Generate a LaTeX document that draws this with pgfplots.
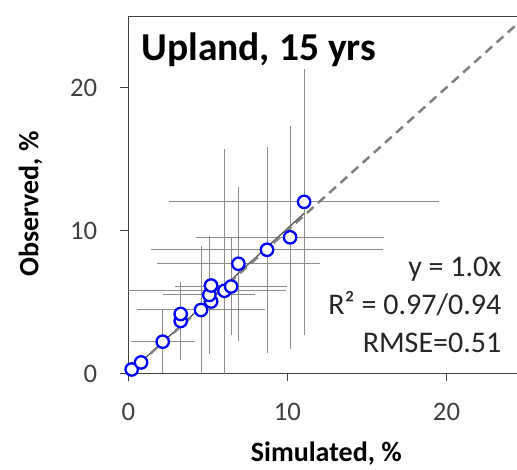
\documentclass[border=0pt]{standalone}
\usepackage{pgfplots}
\pgfplotsset{compat=1.18}
\usepackage{pgfplotstable}
\usepackage{fontspec}
\setmainfont{Carlito}

\pgfplotstableread{
x y xp xm yp ym
0.21 0.28 0.3 0.3 0.3 0.3
0.80 0.77 0.3 0.3 0.3 0.3
2.16 2.22 2.0 2.0 2.2 2.2
3.29 3.67 0.4 0.4 2.7 2.7
3.29 4.16 0.4 0.4 0.6 0.6
4.57 4.44 4.0 4.0 4.45 4.45
5.20 5.03 0.5 0.5 0.5 0.5
5.09 5.49 2.9 2.9 4.1 4.1
5.20 6.15 0.5 0.5 0.5 0.5
6.04 5.78 3.9 6.5 9.9 9.9
6.46 6.08 3.5 3.5 3.4 3.4
6.92 7.67 5.1 5.1 5.4 5.4
8.72 8.65 7.3 7.3 7.2 7.2
10.17 9.52 5.9 5.9 7.8 7.8
11.05 12.0 8.5 8.5 9.3 9.3
}\datatable

\begin{document}
\begin{tikzpicture}
\begin{axis}[
  scale only axis, width=388pt, height=357.3pt,
  xmin=0, xmax=24.4, ymin=0, ymax=25,
  axis x line=bottom, axis y line=left,
  axis line style={-, black!75, line width=1pt},
  xtick={0,10,20}, ytick={0,10,20},
  minor tick num=0,
  tick align=outside, major tick length=8pt,
  tick style={black!75, line width=1pt},
  /pgf/number format/assume math mode=true,
  ticklabel style={font=\fontsize{26.7}{30}\selectfont, text=black!75, inner sep=0pt},
  xticklabel style={yshift=-22pt},
  yticklabel style={xshift=-23pt},
  xlabel={Simulated, \%},
  ylabel={Observed, \%},
  xlabel style={at={(axis description cs:0.51,-0.2474)}, anchor=base, inner sep=0pt, font=\bfseries\fontsize{28}{32}\selectfont},
  ylabel style={at={(axis description cs:-0.232,0.474)}, anchor=base, inner sep=0pt, font=\bfseries\fontsize{28}{32}\selectfont},
  clip=true,
]
\addplot[forget plot, draw=none, mark=none,
  error bars/.cd, x dir=both, x explicit, y dir=both, y explicit,
  error mark=none, error bar style={black!45, line width=1pt}]
  table[x=x, y=y, x error plus=xp, x error minus=xm, y error plus=yp, y error minus=ym] {\datatable};
\addplot[only marks, mark=*, mark size=6.2pt,
  mark options={draw=blue, fill=white, line width=2.3pt}]
  table[x=x, y=y] {\datatable};
\addplot[black!70, line width=1.2pt, mark=none] coordinates {(0,0) (11.05,11.2)};
\addplot[black!50, line width=2.5pt, mark=none, dash pattern=on 9pt off 6pt] coordinates {(0,0) (25,25)};
\node[anchor=base west, inner sep=0pt, font=\bfseries\fontsize{39.5}{44}\selectfont] at (axis cs:0.8,21.92) {Upland, 15 yrs};
\node[anchor=base east, inner sep=0pt, text=black!85, font=\fontsize{30}{36}\selectfont] at (axis cs:23.46,6.81) {y = 1.0x};
\node[anchor=base east, inner sep=0pt, text=black!85, font=\fontsize{30}{36}\selectfont] at (axis cs:23.46,4.15) {R² = 0.97/0.94};
\node[anchor=base east, inner sep=0pt, text=black!85, font=\fontsize{30}{36}\selectfont] at (axis cs:23.46,1.47) {RMSE=0.51};
\end{axis}
\draw[black!75, line width=1pt] (current axis.north west) -- (current axis.north east);
\path ([xshift=-128.3pt,yshift=16pt]current axis.north west);
\path ([yshift=-95.7pt]current axis.south west);
\end{tikzpicture}
\end{document}
